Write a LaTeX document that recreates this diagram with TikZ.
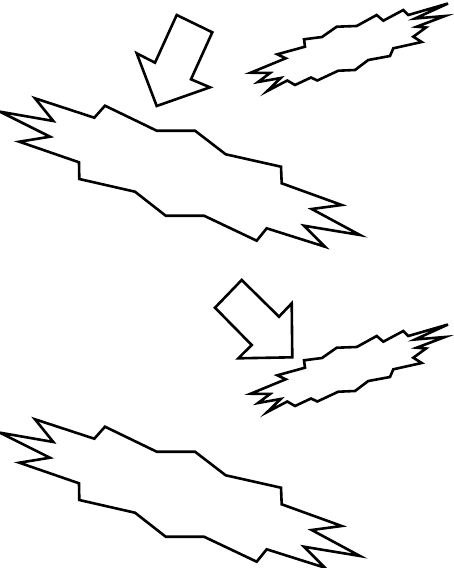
\documentclass[tikz,border=0pt]{standalone}
\begin{document}
\begin{tikzpicture}[x=1pt,y=-1pt,
  outline/.style={draw=black,fill=white,line width=2.6pt,line join=miter,miter limit=10}]
\useasboundingbox (0,0) rectangle (454,568);
% big burst shape
\def\bigburst{(0,111.7) -- (53.3,121) -- (35,98.3) -- (94.3,117.7) -- (105,105.7) -- (156.7,130.7) -- (195,130.7) -- (225.7,154.3) -- (281,166.7) -- (281.7,183.3) -- (341.7,205) -- (311.7,209) -- (360,235) -- (304,225.7) -- (325,246.7) -- (266.7,228.3) -- (256.7,240.7) -- (204,215.7) -- (165.7,215.7) -- (135,191.7) -- (79.3,179) -- (79,162.3) -- (19.3,141.7) -- (50,136.7) -- cycle}
\def\smallburst{(250.7,72.7) -- (285.7,58.3) -- (277.3,54.3) -- (305,46.7) -- (304,39.3) -- (322,37) -- (336.7,26.7) -- (356.7,26) -- (376.7,15) -- (383.3,20.7) -- (403.3,10) -- (408.3,15) -- (448,3.5) -- (415,18.5) -- (445,16) -- (416.7,26.7) -- (426,27.5) -- (413.3,36.7) -- (421.7,42) -- (393.3,48.3) -- (390,56) -- (368.3,60) -- (355,70) -- (338.3,70.7) -- (317.3,80.5) -- (311,77.5) -- (295,85) -- (287.3,80.5) -- (267.3,91) -- (280.7,78) -- (258,82) -- (270,73) -- cycle}
% top half
\draw[outline] \bigburst;
\draw[outline] \smallburst;
\draw[outline] (176.7,15) -- (212.3,32.3) -- (191,79.3) -- (210,87.3) -- (156.7,106) -- (136.7,53.3) -- (155,62.7) -- cycle;
% bottom half
\begin{scope}[yshift=-321pt]
\draw[outline] \bigburst;
\draw[outline] \smallburst;
\end{scope}
\draw[outline] (241.7,280) -- (279,316.7) -- (291.7,303.3) -- (292.3,357.3) -- (238.3,358.3) -- (251.7,345) -- (215,307.7) -- cycle;
\end{tikzpicture}
\end{document}
